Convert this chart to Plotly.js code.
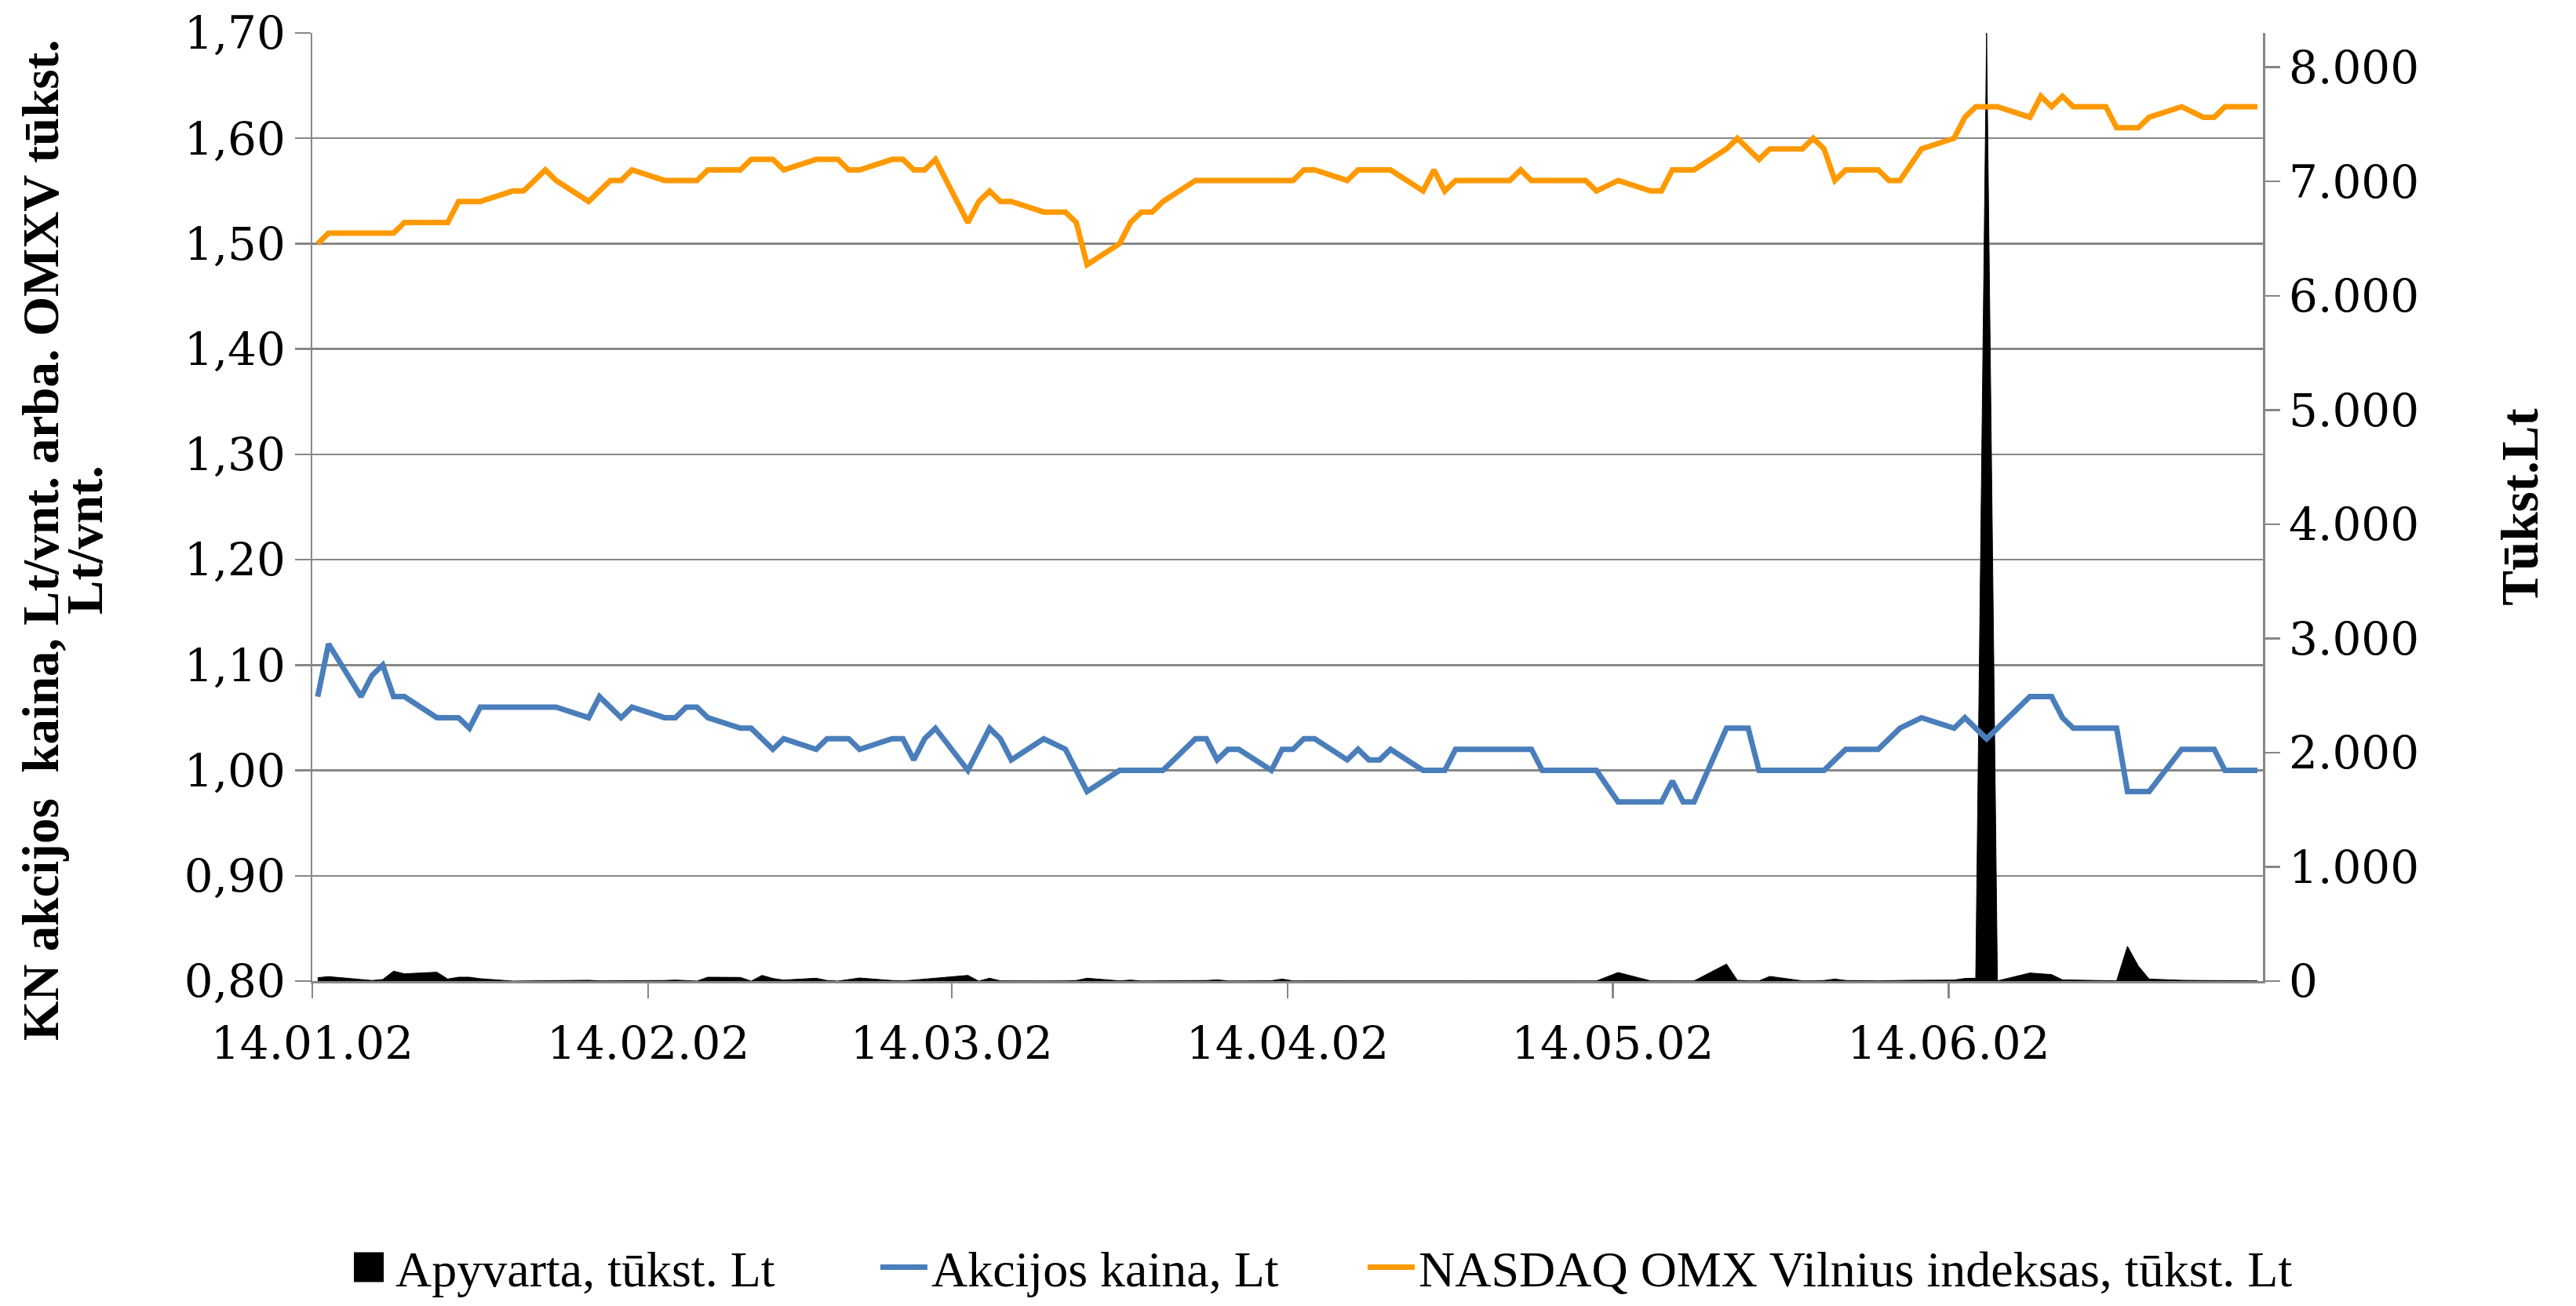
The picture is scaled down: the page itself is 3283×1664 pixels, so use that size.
<!DOCTYPE html>
<html>
<head>
<meta charset="utf-8">
<script src="https://cdn.plot.ly/plotly-3.0.1.min.js"></script>
<style>html,body{margin:0;padding:0;background:#fff;}#chart{width:3283px;height:1664px;}</style>
</head>
<body>
<div id="chart"></div>
<script>
// Trading days (2014)
var dates = [
 '2014-01-02','2014-01-03','2014-01-06','2014-01-07','2014-01-08','2014-01-09','2014-01-10','2014-01-13','2014-01-14','2014-01-15','2014-01-16','2014-01-17','2014-01-20','2014-01-21','2014-01-22','2014-01-23','2014-01-24','2014-01-27','2014-01-28','2014-01-29','2014-01-30','2014-01-31',
 '2014-02-03','2014-02-04','2014-02-05','2014-02-06','2014-02-07','2014-02-10','2014-02-11','2014-02-12','2014-02-13','2014-02-14','2014-02-17','2014-02-18','2014-02-19','2014-02-20','2014-02-21','2014-02-24','2014-02-25','2014-02-26','2014-02-27','2014-02-28',
 '2014-03-03','2014-03-04','2014-03-05','2014-03-06','2014-03-07','2014-03-10','2014-03-12','2014-03-13','2014-03-14','2014-03-17','2014-03-18','2014-03-19','2014-03-20','2014-03-21','2014-03-24','2014-03-25','2014-03-26','2014-03-27','2014-03-28','2014-03-31',
 '2014-04-01','2014-04-02','2014-04-03','2014-04-04','2014-04-07','2014-04-08','2014-04-09','2014-04-10','2014-04-11','2014-04-14','2014-04-15','2014-04-16','2014-04-17','2014-04-22','2014-04-23','2014-04-24','2014-04-25','2014-04-28','2014-04-29','2014-04-30',
 '2014-05-02','2014-05-05','2014-05-06','2014-05-07','2014-05-08','2014-05-09','2014-05-12','2014-05-13','2014-05-14','2014-05-15','2014-05-16','2014-05-19','2014-05-20','2014-05-21','2014-05-22','2014-05-23','2014-05-26','2014-05-27','2014-05-28','2014-05-29','2014-05-30',
 '2014-06-02','2014-06-03','2014-06-04','2014-06-05','2014-06-06','2014-06-09','2014-06-10','2014-06-11','2014-06-12','2014-06-13','2014-06-16','2014-06-17','2014-06-18','2014-06-19','2014-06-20','2014-06-23','2014-06-25','2014-06-26','2014-06-27','2014-06-30'
];

// Apyvarta, tūkst. Lt (right axis)
var apyvarta = [
 30,39,14,5,14,87,64,78,18,34,34,21,0,1,2,5,9,7,2,2,2,2,
 5,9,2,0,34,32,0,50,23,9,25,5,0,14,27,5,2,9,18,27,
 50,0,25,2,1,1,2,5,25,2,9,1,2,2,5,5,11,1,1,3,
 18,1,2,2,3,2,3,2,2,2,2,2,2,1,1,1,2,1,1,1,
 75,2,2,2,1,1,149,7,2,2,41,2,2,5,18,5,2,5,5,7,7,
 9,23,25,8300,2,71,64,57,11,9,2,2,304,133,18,7,5,5,5,2
];

// Akcijos kaina, Lt (left axis)
var kaina = [
 1.07,1.12,1.07,1.09,1.10,1.07,1.07,1.05,1.05,1.05,1.04,1.06,1.06,1.06,1.06,1.06,1.06,1.05,1.07,1.06,1.05,1.06,
 1.05,1.05,1.06,1.06,1.05,1.04,1.04,1.03,1.02,1.03,1.02,1.03,1.03,1.03,1.02,1.03,1.03,1.01,1.03,1.04,
 1.00,1.02,1.04,1.03,1.01,1.03,1.02,1.00,0.98,1.00,1.00,1.00,1.00,1.00,1.03,1.03,1.01,1.02,1.02,1.00,
 1.02,1.02,1.03,1.03,1.01,1.02,1.01,1.01,1.02,1.00,1.00,1.00,1.02,1.02,1.02,1.02,1.00,1.00,1.00,1.00,
 0.97,0.97,0.97,0.99,0.97,0.97,1.04,1.04,1.04,1.00,1.00,1.00,1.00,1.00,1.01,1.02,1.02,1.03,1.04,1.045,1.05,
 1.04,1.05,1.04,1.03,1.04,1.07,1.07,1.07,1.05,1.04,1.04,1.04,0.98,0.98,0.98,1.02,1.02,1.02,1.00,1.00
];

// NASDAQ OMX Vilnius indeksas, tūkst. Lt (left axis)
var omxv = [
 1.50,1.51,1.51,1.51,1.51,1.51,1.52,1.52,1.52,1.54,1.54,1.54,1.55,1.55,1.56,1.57,1.56,1.54,1.55,1.56,1.56,1.57,
 1.56,1.56,1.56,1.56,1.57,1.57,1.58,1.58,1.58,1.57,1.58,1.58,1.58,1.57,1.57,1.58,1.58,1.57,1.57,1.58,
 1.52,1.54,1.55,1.54,1.54,1.53,1.53,1.52,1.48,1.50,1.52,1.53,1.53,1.54,1.56,1.56,1.56,1.56,1.56,1.56,
 1.56,1.56,1.57,1.57,1.56,1.57,1.57,1.57,1.57,1.55,1.57,1.55,1.56,1.56,1.57,1.56,1.56,1.56,1.56,1.55,
 1.56,1.55,1.55,1.57,1.57,1.57,1.59,1.60,1.59,1.58,1.59,1.59,1.60,1.59,1.56,1.57,1.57,1.56,1.56,1.575,1.59,
 1.60,1.62,1.63,1.63,1.63,1.62,1.64,1.63,1.64,1.63,1.63,1.61,1.61,1.61,1.62,1.63,1.62,1.62,1.63,1.63
];

// X tick positions (day-slot boundaries) and labels
var xTickVals = ['2014-01-01 12:00','2014-02-01 12:00','2014-03-01 12:00','2014-04-01 12:00','2014-05-01 12:00','2014-06-01 12:00'];
var xTickText = ['14.01.02','14.02.02','14.03.02','14.04.02','14.05.02','14.06.02'];

var names = ['Apyvarta, tūkst. Lt','Akcijos kaina, Lt','NASDAQ OMX Vilnius indeksas, tūkst. Lt'];
var leftTitle1 = 'KN akcijos  kaina, Lt/vnt. arba. OMXV tūkst.';
var leftTitle2 = 'Lt/vnt.';
var rightTitle = 'Tūkst.Lt';

var TICKFONT = 'DejaVu Serif';
var TEXTFONT = 'Liberation Serif';
var GRID = '#878787';

var traces = [
  {x: dates, y: apyvarta, name: names[0], type: 'scatter', mode: 'lines', yaxis: 'y', legend: 'legend',
   fill: 'tozeroy', fillcolor: '#000000', line: {color: '#000000', width: 1}},
  {x: dates, y: kaina, name: names[1], type: 'scatter', mode: 'lines', yaxis: 'y2', legend: 'legend2',
   line: {color: '#4A7EBB', width: 7}},
  {x: dates, y: omxv, name: names[2], type: 'scatter', mode: 'lines', yaxis: 'y2', legend: 'legend3',
   line: {color: '#FF9900', width: 7}}
];

function legendAt(xp) {
  return {orientation: 'h', x: xp, xanchor: 'left', y: -0.302, yanchor: 'middle',
          font: {family: TEXTFONT, size: 64, color: '#000000'}, itemwidth: 60,
          bgcolor: 'rgba(0,0,0,0)'};
}

var titleFont = {family: TEXTFONT, size: 65, color: '#000000', weight: 'bold'};

var layout = {
  width: 3283, height: 1664,
  margin: {l: 398, r: 399, t: 42, b: 414, autoexpand: false},
  paper_bgcolor: '#ffffff', plot_bgcolor: '#ffffff',
  separators: ',.',
  font: {family: TEXTFONT, size: 64, color: '#000000'},
  showlegend: true,
  legend: legendAt(0.0145),
  legend2: legendAt(0.2892),
  legend3: legendAt(0.539),
  xaxis: {type: 'date', range: ['2014-01-01 12:00', '2014-06-30 12:00'],
          tickmode: 'array', tickvals: xTickVals, ticktext: xTickText,
          ticks: 'outside', ticklen: 19, tickwidth: 2.5, tickcolor: GRID, ticklabelstandoff: 8,
          showline: true, linecolor: GRID, linewidth: 2.5, showgrid: false, zeroline: false,
          tickfont: {family: TICKFONT, size: 58, color: '#000000'}},
  yaxis: {side: 'right', range: [0, 8300], dtick: 1000, tick0: 0, tickformat: ',d',
          ticks: 'outside', ticklen: 19, tickwidth: 2.5, tickcolor: GRID,
          showline: true, linecolor: GRID, linewidth: 2.5, showgrid: false, zeroline: false,
          tickfont: {family: TICKFONT, size: 58, color: '#000000'},
          title: {text: rightTitle, font: {family: TEXTFONT, size: 67, color: '#000000', weight: 'bold'}, standoff: 105}},
  yaxis2: {overlaying: 'y', side: 'left', range: [0.8, 1.7], dtick: 0.1, tick0: 0.8, tickformat: '.2f',
           ticks: 'outside', ticklen: 20, tickwidth: 2.5, tickcolor: GRID,
           showline: true, linecolor: GRID, linewidth: 2.5,
           showgrid: true, gridcolor: GRID, gridwidth: 2.5, zeroline: false,
           tickfont: {family: TICKFONT, size: 58, color: '#000000'}},
  annotations: [
    {text: leftTitle1, xref: 'paper', yref: 'paper', x: -0.1392, y: 0.4652, xanchor: 'center', yanchor: 'middle',
     textangle: -90, showarrow: false, font: titleFont},
    {text: leftTitle2, xref: 'paper', yref: 'paper', x: -0.1167, y: 0.4652, xanchor: 'center', yanchor: 'middle',
     textangle: -90, showarrow: false, font: titleFont}
  ]
};

Plotly.newPlot('chart', traces, layout, {displayModeBar: false, staticPlot: true}).then(function (gd) {
  // Excel-style square key for the area series
  var fills = gd.querySelectorAll('.legendfill path');
  fills.forEach(function (p) {
    p.setAttribute('d', 'M17,-19h38v38h-38z');
    var g = p.closest('.traces');
    if (g) g.querySelectorAll('.legendlines path').forEach(function (l) { l.style.display = 'none'; });
  });
});
</script>
</body>
</html>
